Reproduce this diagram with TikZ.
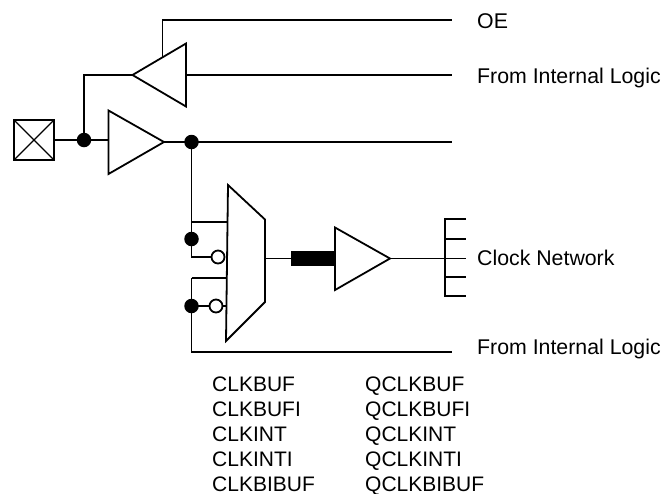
\documentclass[tikz,border=0pt]{standalone}
\usepackage{fontspec}
\setmainfont{Liberation Sans}
\tikzset{
  wire/.style={line width=1.8pt,line cap=butt,line join=miter},
  part/.style={wire,fill=white},
  dotnode/.style={circle,fill=black,draw=none,minimum size=14.5pt,inner sep=0pt},
  invnode/.style={circle,fill=white,draw=black,line width=1.8pt,minimum size=13pt,inner sep=0pt},
  lab/.style={anchor=base west,inner sep=0pt,font=\fontsize{21pt}{25pt}\selectfont},
  rlab/.style={lab,font=\fontsize{21.3pt}{25pt}\selectfont},
}
\begin{document}
\begin{tikzpicture}[x=1pt,y=-1pt]
\useasboundingbox (0,0) rectangle (663,493);
% named points
\coordinate (padR) at (54,140);
\coordinate (padTL) at (14,120);
\coordinate (padBR) at (54,160);
\coordinate (t1apex) at (132.5,75);
\coordinate (t1top) at (186,43.5);
\coordinate (t1bot) at (186,106.5);
\coordinate (t1in) at (186,75);
\coordinate (t1en) at (162.5,57.5);
\coordinate (t2apex) at (164,142);
\coordinate (t2top) at (108.5,110.5);
\coordinate (t2bot) at (108.5,174);
\coordinate (t2in) at (108.5,140);
\coordinate (t3apex) at (390,258.5);
\coordinate (t3top) at (335,227.5);
\coordinate (t3bot) at (335,290);
\coordinate (muxA) at (228,185);
\coordinate (muxB) at (265,219.5);
\coordinate (muxC) at (265,302);
\coordinate (muxD) at (226,341);
\coordinate (muxOut) at (265,258.5);
\coordinate (oeEnd) at (452,20);
\coordinate (fil1End) at (452,75);
\coordinate (midEnd) at (452,142);
\coordinate (fil2End) at (452,352);
\coordinate (busL) at (291,258.5);
\coordinate (combTop) at (445,219);
\coordinate (combBot) at (445,296);
\coordinate (combMid) at (445,258.5);
\coordinate (d1) at (84,140);
\coordinate (d2) at (191.5,142);
\coordinate (d3) at (191.5,239);
\coordinate (d4) at (191.5,306);
\coordinate (in1) at (191.5,222);
\coordinate (in1m) at (228,222);
\coordinate (in2) at (191.5,278);
\coordinate (in2m) at (226.5,278);
\coordinate (inv2m) at (226.5,306);
% wires
\draw[wire] (padR) -- (t2in);
\draw[wire] (d1) |- (t1apex);
\draw[wire] (t1in) -- (fil1End);
\draw[wire] (t1en) |- (oeEnd);
\draw[wire] (t2apex) -- (midEnd);
\draw[wire] (d2) -- (d3);
\draw[wire] (in1) -- (in1m);
\draw[wire] (d3) |- (218,257);
\draw[wire] (in2) -- (in2m);
\draw[wire] (in2) |- (fil2End);
\draw[wire] (d4) -- (inv2m);
\draw[wire] (muxOut) -- (busL);
\draw[wire] (t3apex) -- (combMid);
% dots and bubbles
\node[dotnode] (n1) at (d1) {};
\node[dotnode] (n2) at (d2) {};
\node[dotnode] (n3) at (d3) {};
\node[dotnode] (n4) at (d4) {};
\node[invnode] (i1) at (218,257) {};
\node[invnode] (i2) at (216,306) {};
% pad
\draw[wire] (padTL) rectangle (padBR);
\draw[wire,line width=1.4pt] (padTL) -- (padBR);
\draw[wire,line width=1.4pt] (14,160) -- (54,120);
% buffers
\draw[part] (t1apex) -- (t1top) -- (t1bot) -- cycle;
\draw[part] (t2apex) -- (t2top) -- (t2bot) -- cycle;
\draw[part] (t3apex) -- (t3top) -- (t3bot) -- cycle;
% mux
\draw[wire] (muxA) -- (muxB) -- (muxC) -- (muxD) -- cycle;
% bus
\fill (291,251) rectangle (335,265.5);
% comb
\draw[wire] (466,219) -- (combTop) -- (combBot) -- (466,296);
\draw[wire] (445,239) -- (466,239);
\draw[wire] (combMid) -- (466,258.5);
\draw[wire] (445,277) -- (466,277);
% labels
\node[rlab] (oe) at (477,28) {OE};
\node[rlab] (fil1) at (477,83) {From Internal Logic};
\node[rlab] (clk) at (477,265) {Clock Network};
\node[rlab] (fil2) at (477,354) {From Internal Logic};
\node[lab] (a1) at (212,391) {CLKBUF};
\node[lab] (a2) at (212,416) {CLKBUFI};
\node[lab] (a3) at (212,441) {CLKINT};
\node[lab] (a4) at (212,466) {CLKINTI};
\node[lab] (a5) at (212,491) {CLKBIBUF};
\node[lab] (b1) at (365,391) {QCLKBUF};
\node[lab] (b2) at (365,416) {QCLKBUFI};
\node[lab] (b3) at (365,441) {QCLKINT};
\node[lab] (b4) at (365,466) {QCLKINTI};
\node[lab] (b5) at (365,491) {QCLKBIBUF};
\end{tikzpicture}
\end{document}
